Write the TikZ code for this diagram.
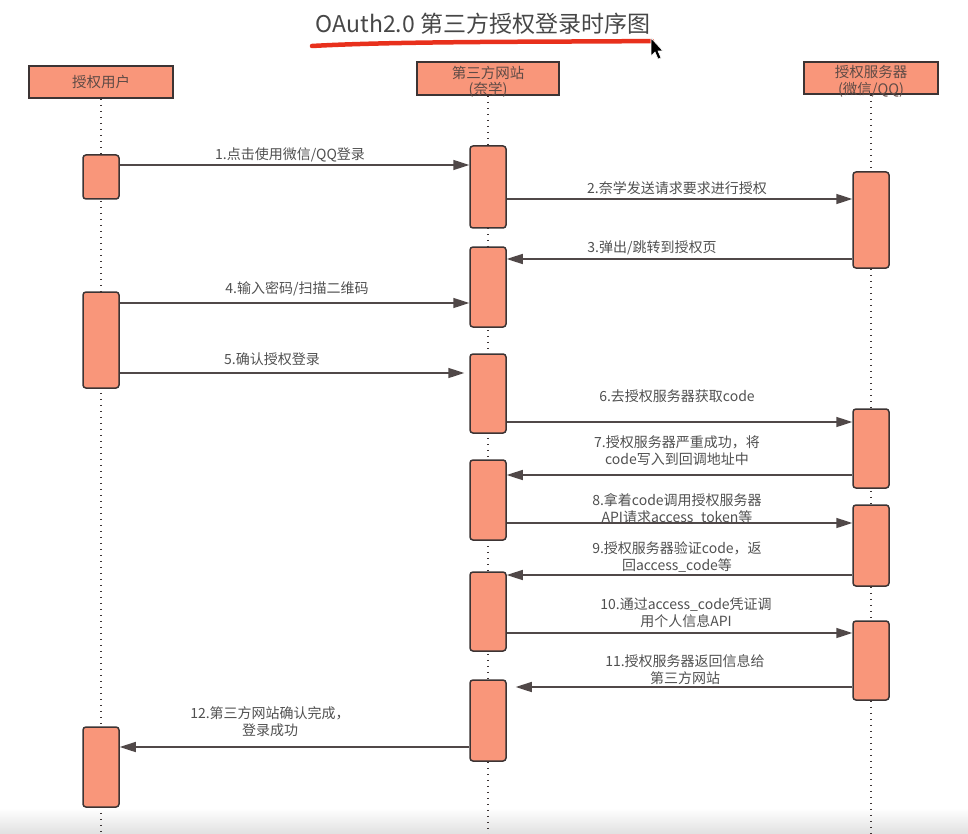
\documentclass[tikz,border=0pt]{standalone}
\usepackage{fontspec}
\setmainfont{Noto Sans CJK SC}
\usetikzlibrary{arrows.meta}
\definecolor{salmon}{RGB}{249,150,122}
\definecolor{edge}{RGB}{60,52,52}
\definecolor{txt}{RGB}{80,80,80}
\definecolor{htxt}{RGB}{95,75,70}
\definecolor{brush}{RGB}{232,48,28}
\tikzset{
  head/.style={draw=edge, line width=1.6pt, fill=salmon, inner sep=0pt},
  headtext/.style={text=htxt, inner sep=0pt, font=\fontsize{14.5}{16.5}\selectfont, align=center},
  act/.style={draw=edge, line width=1.5pt, fill=salmon, rounded corners=3pt,
    minimum width=36pt, inner sep=0pt},
  life/.style={draw=edge, line width=1.6pt, dash pattern=on 1.6pt off 4.4pt},
  msg/.style={draw=edge!90, line width=1.6pt, -{Triangle[length=16pt,width=10pt]}},
  lbl/.style={text=txt, font=\fontsize{14}{17}\selectfont, align=center, inner sep=0pt}
}
\begin{document}
\begin{tikzpicture}[x=1pt,y=-1pt]
\useasboundingbox (0,0) rectangle (968,834);
\shade[top color=white, bottom color=black!12] (0,808) rectangle (968,834);
% title
\node[text=black!72, font=\fontsize{23}{27}\selectfont, inner sep=0pt] (title) at (483,24) {OAuth2.0 第三方授权登录时序图};
\draw[brush, line width=4.5pt, line cap=round] (312,46) .. controls (400,41) and (560,42) .. (652,41);
\filldraw[fill=black, draw=white, line width=0.6pt] (651,38) -- (651,56) -- (655,52) -- (658,59) -- (661,58) -- (658,51) -- (663,51) -- cycle;
% headers
\node[head, minimum width=144pt, minimum height=32pt] (hu) at (101,82) {};
\node[headtext] (tu) at (hu.center) {授权用户};
\node[head, minimum width=142pt, minimum height=33pt] (hs) at (488,78.5) {};
\node[headtext] (ts) at ([yshift=-3.5pt]hs.center) {第三方网站\\(奈学)};
\node[head, minimum width=134pt, minimum height=32pt] (hv) at (871,78) {};
\node[headtext] (tv) at ([yshift=-3.5pt]hv.center) {授权服务器\\(微信/QQ)};
\coordinate (eu) at (101,834);
\coordinate (es) at (488,834);
\coordinate (ev) at (871,834);
\draw[life] (hu.south) -- (eu);
\draw[life] (hs.south) -- (es);
\draw[life] (hv.south) -- (ev);
% activations user
\node[act, minimum height=44pt] (a1) at (101,177) {};
\node[act, minimum height=96pt] (a2) at (101,340) {};
\node[act, minimum height=80pt] (a3) at (101,767) {};
% activations site
\node[act, minimum height=82pt] (s1) at (488,187) {};
\node[act, minimum height=80pt] (s2) at (488,287) {};
\node[act, minimum height=79pt] (s3) at (488,393.5) {};
\node[act, minimum height=80pt] (s4) at (488,500) {};
\node[act, minimum height=79pt] (s5) at (488,611.5) {};
\node[act, minimum height=81pt] (s6) at (488,720.5) {};
% activations server
\node[act, minimum height=96pt] (v1) at (871,220) {};
\node[act, minimum height=79pt] (v2) at (871,448.5) {};
\node[act, minimum height=81pt] (v3) at (871,545.5) {};
\node[act, minimum height=79pt] (v4) at (871,660.5) {};
% messages
\draw[msg] (a1.east |- 0,165) -- (s1.west |- 0,165);
\node[lbl] (l1) at (290,155) {1.点击使用微信/QQ登录};
\draw[msg] (s1.east |- 0,199) -- (v1.west |- 0,199);
\node[lbl] (l2) at (677,188) {2.奈学发送请求要求进行授权};
\draw[msg] (v1.west |- 0,259) -- (s2.east |- 0,259);
\node[lbl] (l3) at (652,248) {3.弹出/跳转到授权页};
\draw[msg] (a2.east |- 0,303) -- (s2.west |- 0,303);
\node[lbl] (l4) at (297,289) {4.输入密码/扫描二维码};
\draw[msg, shorten >=5pt] (a2.east |- 0,373) -- (s3.west |- 0,373);
\node[lbl] (l5) at (272,359) {5.确认授权登录};
\draw[msg] (s3.east |- 0,422) -- (v2.west |- 0,422);
\node[lbl] (l6) at (677,396) {6.去授权服务器获取code};
\draw[msg] (v2.west |- 0,475) -- (s4.east |- 0,475);
\node[lbl] (l7) at (677,451) {7.授权服务器严重成功，将\\code写入到回调地址中};
\draw[msg] (s4.east |- 0,523) -- (v3.west |- 0,523);
\node[lbl] (l8) at (677,509) {8.拿着code调用授权服务器\\API请求access\_token等};
\draw[msg] (v3.west |- 0,575) -- (s5.east |- 0,575);
\node[lbl] (l9) at (677,557) {9.授权服务器验证code，返\\回access\_code等};
\draw[msg] (s5.east |- 0,633) -- (v4.west |- 0,633);
\node[lbl] (l10) at (686,613) {10.通过access\_code凭证调\\用个人信息API};
\draw[msg, shorten >=9pt] (v4.west |- 0,687) -- (s6.east |- 0,687);
\node[lbl] (l11) at (685,670) {11.授权服务器返回信息给\\第三方网站};
\draw[msg] (s6.west |- 0,747) -- (a3.east |- 0,747);
\node[lbl] (l12) at (270,722) {12.第三方网站确认完成，\\登录成功};
\end{tikzpicture}
\end{document}
